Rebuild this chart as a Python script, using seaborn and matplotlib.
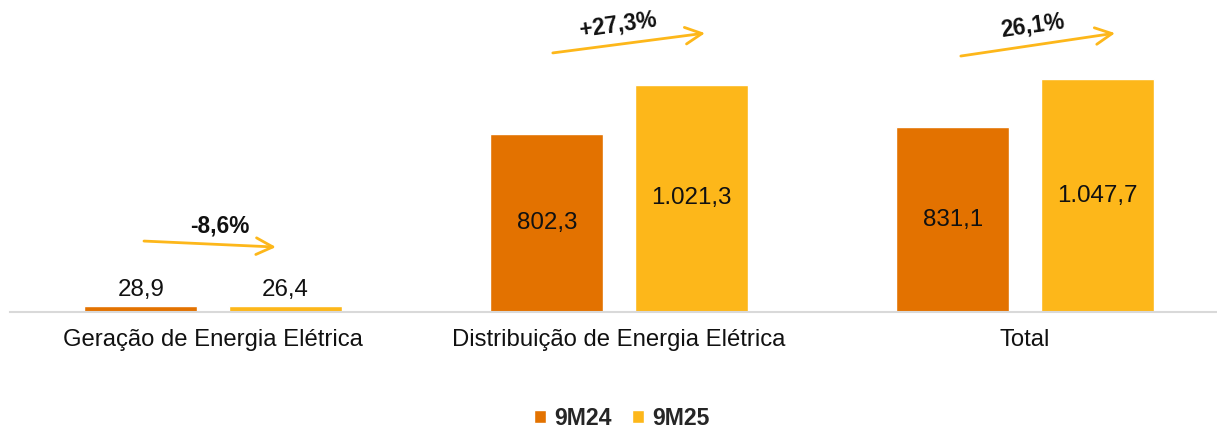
import seaborn as sns
import matplotlib.pyplot as plt
import pandas as pd
from matplotlib.patches import Patch

# Dados (R$ milhões)
categorias = ['Geração de Energia Elétrica', 'Distribuição de Energia Elétrica', 'Total']
periodos = ['9M24', '9M25']
valores_9m24 = [28.9, 802.3, 831.1]
valores_9m25 = [26.4, 1021.3, 1047.7]
variacoes = ['-8,6%', '+27,3%', '26,1%']

cores = {'9M24': '#E37200', '9M25': '#FDB71A'}
cor_seta = '#FDB71A'


def formata_br(v):
    s = f'{v:,.1f}'
    return s.replace(',', 'X').replace('.', ',').replace('X', '.')


df = pd.DataFrame({
    'categoria': categorias * 2,
    'periodo': ['9M24'] * 3 + ['9M25'] * 3,
    'valor': valores_9m24 + valores_9m25,
})

sns.set_style('white')
plt.rcParams['font.family'] = ['Liberation Sans', 'DejaVu Sans']

fig = plt.figure(figsize=(12.17, 4.29), dpi=100)
ax = fig.add_axes([10 / 1217, 117 / 429, 1207 / 1217, 312 / 429])

sns.barplot(data=df, x='categoria', y='valor', hue='periodo', hue_order=periodos,
            palette=cores, width=0.712, gap=0.22, legend=False, ax=ax,
            saturation=1, errorbar=None)

ax.set_xlim(-0.5, 2.473)
ax.set_ylim(0, 1403)
ax.set(xlabel='', ylabel='', yticks=[])
for s in ['top', 'right', 'left']:
    ax.spines[s].set_visible(False)
ax.spines['bottom'].set_color('#D9D9D9')
ax.spines['bottom'].set_linewidth(1.5)
ax.tick_params(axis='x', length=0, pad=12, labelsize=17.2, labelcolor='#111111')

# Rótulos das barras: dentro quando a barra é alta, acima quando é baixa
vmax = max(valores_9m24 + valores_9m25)
for cont in ax.containers:
    for barra in cont:
        h = barra.get_height()
        xc = barra.get_x() + barra.get_width() / 2
        if h > 0.2 * vmax:
            ax.text(xc, h / 2, formata_br(h), ha='center', va='center',
                    fontsize=17.4, color='#111111')
        else:
            ax.text(xc, h + 22, formata_br(h), ha='center', va='bottom',
                    fontsize=17.4, color='#111111')

# Setas de variação
setas = [
    ((-0.17, 319), (0.155, 292), (0.017, 387), 0),
    ((-0.163, 1165), (0.212, 1254), (-0.002, 1290), 8),
    ((-0.158, 1151), (0.222, 1254), (0.02, 1287), 8),
]
for i, (ini, fim, txt, rot) in enumerate(setas):
    ax.annotate('', xy=(i + fim[0], fim[1]), xytext=(i + ini[0], ini[1]),
                arrowprops=dict(arrowstyle='->', color=cor_seta, lw=2,
                                mutation_scale=30, shrinkA=0, shrinkB=0),
                annotation_clip=False)
    ax.text(i + txt[0], txt[1], variacoes[i], ha='center', va='center',
            rotation=rot, fontsize=16.3, fontweight='bold', color='#111111')

handles = [Patch(facecolor=cores[p], label=p) for p in periodos]
fig.legend(handles=handles, loc='center', bbox_to_anchor=(0.511, 10 / 429 + 0.001),
           ncol=2, frameon=False, handlelength=0.5, handleheight=0.5,
           handletextpad=0.35, columnspacing=0.9,
           prop={'weight': 'bold', 'size': 16.6})

fig.savefig('out.png', dpi=100)
